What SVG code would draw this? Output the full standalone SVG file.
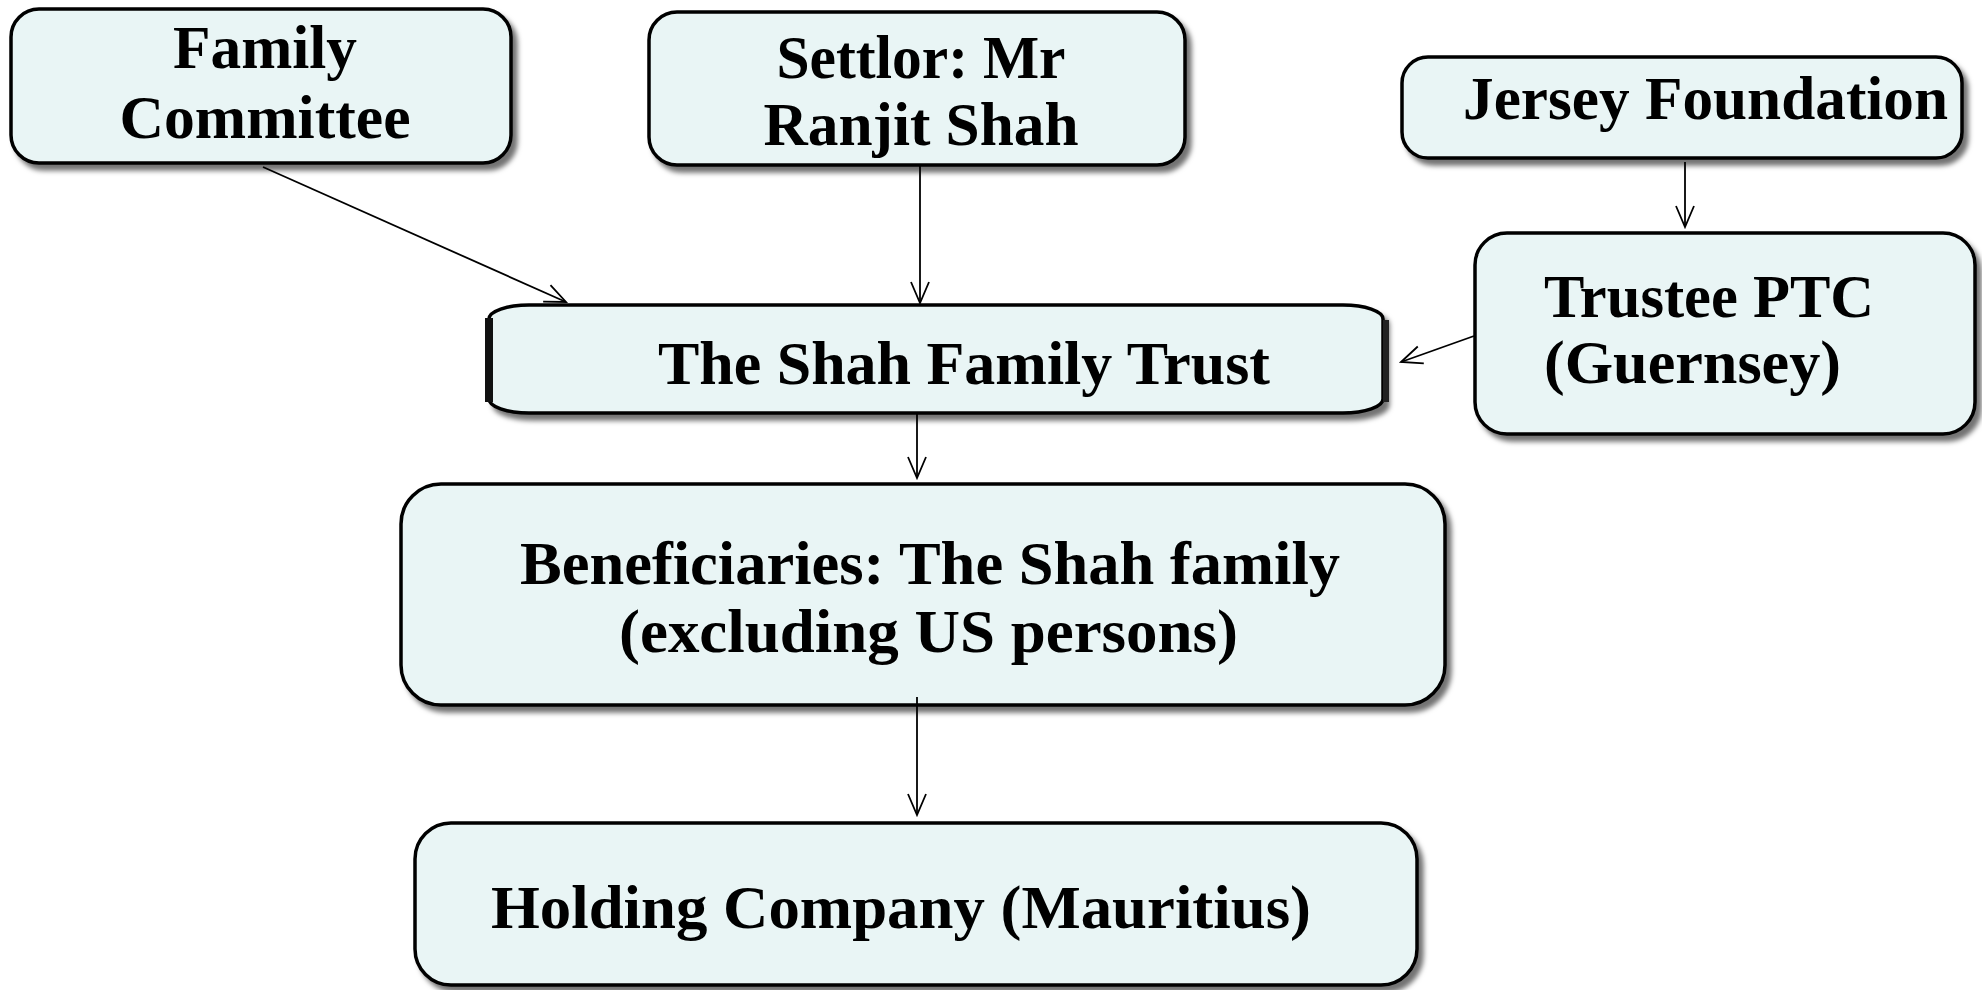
<svg xmlns="http://www.w3.org/2000/svg" width="1982" height="990" viewBox="0 0 1982 990">
<defs>
<filter id="sh" x="-10%" y="-20%" width="125%" height="150%">
<feDropShadow dx="5" dy="6" stdDeviation="2.5" flood-color="#000" flood-opacity="0.55"/>
</filter>
<marker id="arr" markerUnits="userSpaceOnUse" viewBox="-24 -12 26 24" refX="0" refY="0" markerWidth="26" markerHeight="24" orient="auto">
<path d="M-21,-9 L0,0 L-21,9" fill="none" stroke="#000" stroke-width="1.8"/>
</marker>
</defs>
<style>
.box{fill:#e9f5f5;stroke:#000;stroke-width:3.5;filter:url(#sh)}
.t{font-family:"Liberation Serif","DejaVu Serif",serif;font-weight:bold;font-size:61px;fill:#000}
.c{stroke:#000;stroke-width:1.8;fill:none;marker-end:url(#arr)}
</style>
<rect width="1982" height="990" fill="#fff"/>
<g id="family-committee">
<rect class="box" x="11" y="9" width="500" height="154" rx="28"/>
<text class="t" x="265" y="68" text-anchor="middle" textLength="184" lengthAdjust="spacingAndGlyphs">Family</text>
<text class="t" x="265" y="138" text-anchor="middle" textLength="291" lengthAdjust="spacingAndGlyphs">Committee</text>
</g>
<g id="settlor">
<rect class="box" x="649" y="12" width="536" height="153" rx="28"/>
<text class="t" x="921" y="78" text-anchor="middle" textLength="289" lengthAdjust="spacingAndGlyphs">Settlor: Mr</text>
<text class="t" x="921" y="145" text-anchor="middle" textLength="315" lengthAdjust="spacingAndGlyphs">Ranjit Shah</text>
</g>
<g id="jersey-foundation">
<rect class="box" x="1402" y="57" width="560" height="101" rx="26"/>
<text class="t" x="1463" y="119" textLength="485" lengthAdjust="spacingAndGlyphs">Jersey Foundation</text>
</g>
<g id="trustee-ptc">
<rect class="box" x="1475" y="233" width="500" height="201" rx="32"/>
<text class="t" x="1544" y="317" textLength="330" lengthAdjust="spacingAndGlyphs">Trustee PTC</text>
<text class="t" x="1544" y="383" textLength="297" lengthAdjust="spacingAndGlyphs">(Guernsey)</text>
</g>
<g id="shah-family-trust">
<rect class="box" x="489" y="305" width="894" height="108" rx="40" ry="14"/>
<rect x="485" y="318" width="8" height="84" fill="#111"/>
<rect x="1383" y="320" width="6" height="82" fill="#222"/>
<text class="t" x="658" y="384" textLength="612" lengthAdjust="spacingAndGlyphs">The Shah Family Trust</text>
</g>
<g id="beneficiaries">
<rect class="box" x="401" y="484" width="1044" height="221" rx="40"/>
<text class="t" x="520" y="584" textLength="820" lengthAdjust="spacingAndGlyphs">Beneficiaries: The Shah family</text>
<text class="t" x="619" y="652" textLength="619" lengthAdjust="spacingAndGlyphs">(excluding US persons)</text>
</g>
<g id="holding-company">
<rect class="box" x="415" y="823" width="1002" height="162" rx="36"/>
<text class="t" x="491" y="928" textLength="820" lengthAdjust="spacingAndGlyphs">Holding Company (Mauritius)</text>
</g>
<g id="connectors">
<line class="c" x1="263" y1="167" x2="566" y2="302"/>
<line class="c" x1="920" y1="166" x2="920" y2="303"/>
<line class="c" x1="1685" y1="162" x2="1685" y2="227"/>
<line class="c" x1="1474" y1="336" x2="1401" y2="362"/>
<line class="c" x1="917" y1="413" x2="917" y2="478"/>
<line class="c" x1="917" y1="697" x2="917" y2="815"/>
</g>
</svg>
